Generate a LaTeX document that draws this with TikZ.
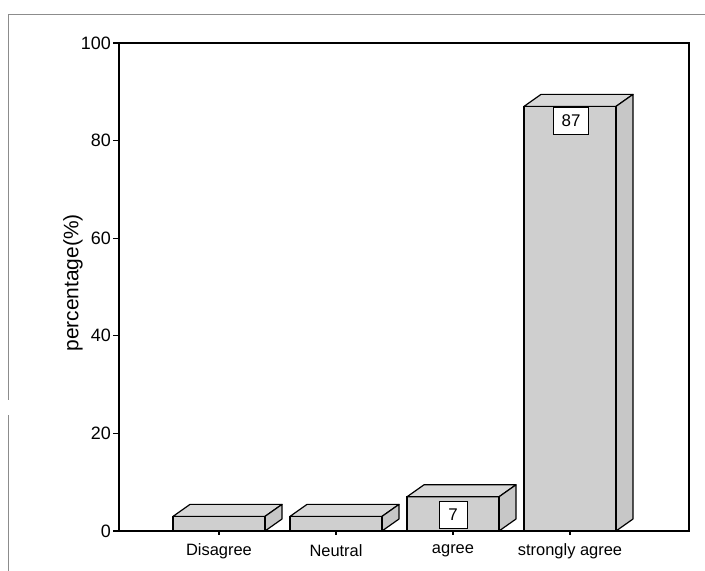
\documentclass[tikz,border=0pt]{standalone}
\usepackage{fontspec}
\setmainfont{Liberation Sans}
\tikzset{
  facefront/.style={draw=black, line width=1.2pt, fill=black!19, line join=round},
  facetop/.style={draw=black, line width=1.2pt, fill=black!15, line join=round},
  faceside/.style={draw=black, line width=1.2pt, fill=black!22, line join=round},
  axisline/.style={draw=black, line width=1.5pt},
  ticklab/.style={font=\fontsize{18}{20}\selectfont, inner sep=0pt},
  catlab/.style={font=\fontsize{16.5}{19}\selectfont, inner sep=0pt},
  vallab/.style={draw=black, line width=1pt, fill=white, font=\fontsize{17}{19}\selectfont, minimum height=27bp, inner sep=0pt},
  framegray/.style={draw=black!45, line width=0.6pt}
}
% \threedbar{center x}{top y}
\newcommand\threedbar[2]{%
  \fill[facefront] (#1-46,40) rectangle (#1+46,#2);
  \filldraw[facetop] (#1-46,#2) -- (#1+46,#2) -- (#1+63,#2+12) -- (#1-29,#2+12) -- cycle;
  \filldraw[faceside] (#1+46,40) -- (#1+63,52) -- (#1+63,#2+12) -- (#1+46,#2) -- cycle;
  \draw[facefront,fill=none] (#1-46,40) rectangle (#1+46,#2);
}
\begin{document}
\begin{tikzpicture}[x=1bp,y=1bp]
\useasboundingbox (0,0) rectangle (705,571);
% outer frame remnants
\draw[framegray] (8,0) -- (8,156);
\draw[framegray] (8,171) -- (8,557) -- (705,557);
% bars
\threedbar{219}{54.6}
\threedbar{336}{54.6}
\threedbar{453}{74.2}
\threedbar{570}{464.6}
% axes box
\draw[axisline] (119,40) rectangle (689,528);
% y ticks
\foreach \v [count=\i from 0] in {0,20,40,60,80,100}{
  \draw[line width=1.1pt] (113,40+4.88*\v) -- (119,40+4.88*\v);
  \node[ticklab, anchor=east] (yt\i) at (111,40+4.88*\v) {\v};
}
% x ticks and category labels
\foreach \x/\t/\n in {219/Disagree/c1,336/Neutral/c2,453/agree/c3,570/strongly agree/c4}{
  \draw[line width=1.1pt] (\x,40) -- (\x,36);
  \node[catlab] (\n) at (\x,20) {\t};
}
% value labels
\node[vallab, minimum width=28bp] (v7) at (453,56) {7};
\node[vallab, minimum width=35bp] (v87) at (571,450) {87};
% y-axis title
\node[font=\fontsize{21}{24}\selectfont, rotate=90, inner sep=0pt] (ylab) at (73,288) {percentage(\%)};
\end{tikzpicture}
\end{document}
